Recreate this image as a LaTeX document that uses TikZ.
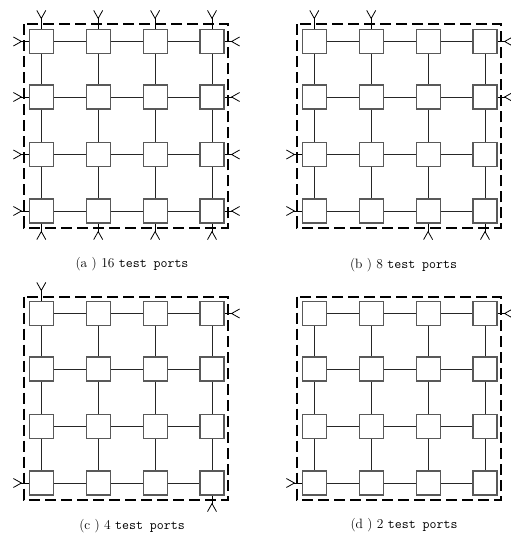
\documentclass[tikz,border=0pt]{standalone}
\usepackage{tikz}
\usetikzlibrary{arrows.meta}

\newcommand{\drawmesh}[1]{%
  \foreach \y [count=\i] in {41.5,97,154.5,211}
    \foreach \x [count=\j] in {41.3,98.2,155.1,212}
      \node[router] (#1-\i-\j) at (\x,\y) {};
  \foreach \x [count=\j] in {41.3,98.2,155.1,212}{
    \coordinate (#1-t\j) at (\x,10);
    \coordinate (#1-b\j) at (\x,240);}
  \foreach \y [count=\i] in {41.5,97,154.5,211}{
    \coordinate (#1-l\i) at (13,\y);
    \coordinate (#1-r\i) at (240,\y);}
  \foreach \i in {1,2,3,4}{
    \foreach \j/\n in {1/2,2/3,3/4}{
      \draw[link] (#1-\i-\j) -- (#1-\i-\n);
      \draw[link] (#1-\j-\i) -- (#1-\n-\i);}}
  \draw[chip] (24,24.5) rectangle (228,227.5);
}

\begin{document}
\begin{tikzpicture}[x=1pt,y=-1pt,
  router/.style={draw=black!65,line width=1.1pt,fill=white,minimum size=24pt,inner sep=0pt},
  link/.style={draw=black!85,line width=0.8pt},
  chip/.style={draw,line width=2pt,dash pattern=on 11pt off 5pt},
  port/.style={line width=0.8pt,-{Straight Barb[reversed,length=8pt,width=9pt]}},
  lbl/.style={font=\fontsize{13.5}{16}\selectfont}]
\useasboundingbox (0,0) rectangle (510,534);

\drawmesh{a}
\begin{scope}[shift={(273,0)}]
\drawmesh{b}
\end{scope}
\begin{scope}[shift={(0,272)}]
\drawmesh{c}
\end{scope}
\begin{scope}[shift={(273,272)}]
\drawmesh{d}
\end{scope}

% (a) every boundary router has a port
\foreach \k in {1,...,4}{
  \draw[port] (a-1-\k) -- (a-t\k);
  \draw[port] (a-4-\k) -- (a-b\k);
  \draw[port] (a-\k-1) -- (a-l\k);
  \draw[port] (a-\k-4) -- (a-r\k);}
% (b)
\foreach \k in {1,2}{
  \draw[port] (b-1-\k) -- (b-t\k);
  \draw[port] (b-\k-4) -- (b-r\k);}
\foreach \k in {3,4}{
  \draw[port] (b-4-\k) -- (b-b\k);
  \draw[port] (b-\k-1) -- (b-l\k);}
% (c)
\draw[port] (c-1-1) -- (c-t1);
\draw[port] (c-1-4) -- (c-r1);
\draw[port] (c-4-1) -- (c-l4);
\draw[port] (c-4-4) -- (c-b4);
% (d)
\draw[port] (d-1-4) -- (d-r1);
\draw[port] (d-4-1) -- (d-l4);

\node[lbl] (capa) at (132,264) {(a ) 16 \texttt{test ports}};
\node[lbl] (capb) at (403.5,265) {(b ) 8 \texttt{test ports}};
\node[lbl] (capc) at (132,526) {(c ) 4 \texttt{test ports}};
\node[lbl] (capd) at (404,525) {(d ) 2 \texttt{test ports}};
\end{tikzpicture}
\end{document}
